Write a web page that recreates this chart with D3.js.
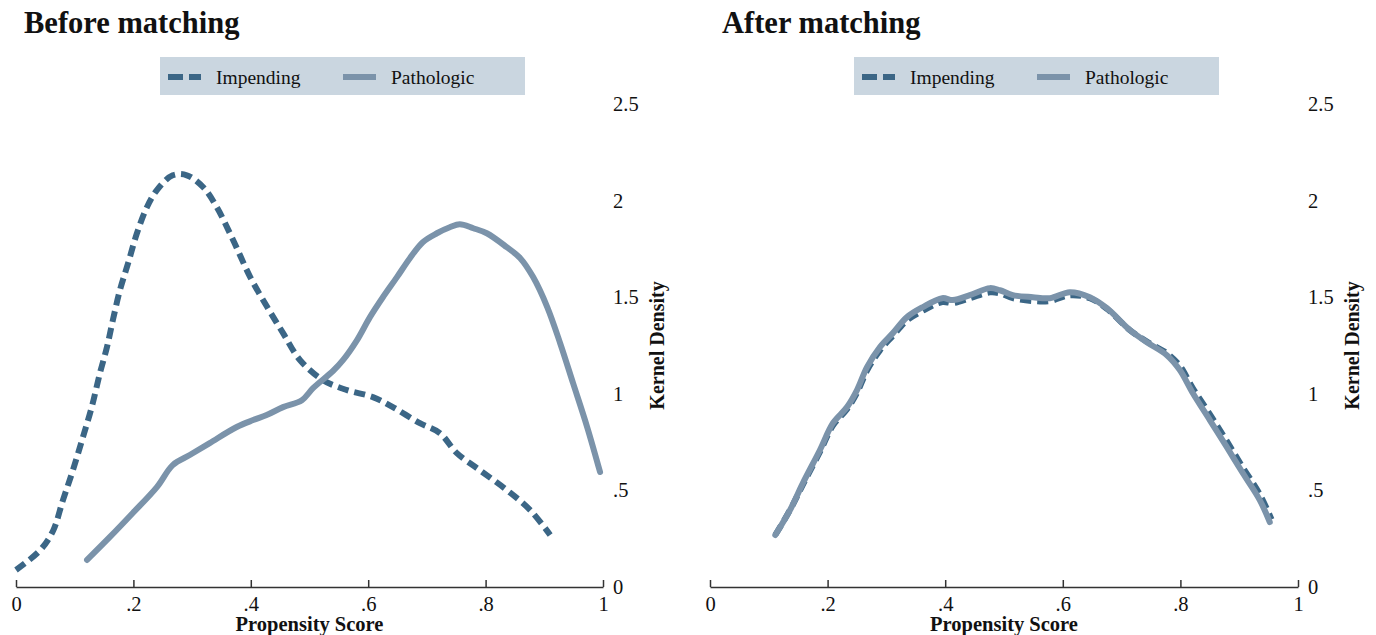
<!DOCTYPE html>
<html>
<head>
<meta charset="utf-8">
<script src="https://cdn.jsdelivr.net/npm/d3@7"></script>
<style>
	body { margin: 0; background: #fff; }
	text { font-family: "Liberation Serif", "Times New Roman", serif; fill: #111; }
</style>
</head>
<body>
<svg id="chart" width="1376" height="635"></svg>
<script>
// propensity score grid + kernel density
const beforeImpX = [0, .041, .063, .080, .097, .114, .129, .143, .155, .165, .177, .191, .206, .223, .240, .267, .291, .319, .342, .370, .399, .428, .455, .484, .523, .564, .608, .642, .688, .722, .751, .790, .836, .876, .910];
const beforeImpY = [.088, .19, .29, .45, .605, .776, .931, 1.107, 1.242, 1.381, 1.536, 1.676, 1.831, 1.966, 2.054, 2.131, 2.131, 2.069, 1.966, 1.795, 1.604, 1.449, 1.314, 1.174, 1.071, 1.019, .983, .931, .848, .797, .693, .605, .502, .398, .269];
const beforePathX = [.121, .160, .199, .240, .267, .296, .330, .376, .404, .427, .455, .487, .506, .540, .557, .581, .603, .625, .649, .671, .693, .717, .739, .756, .779, .802, .836, .859, .881, .905, .927, .949, .973, .995];
const beforePathY = [.140, .259, .383, .517, .631, .683, .745, .828, .864, .890, .931, .967, 1.029, 1.118, 1.174, 1.278, 1.397, 1.500, 1.604, 1.702, 1.785, 1.831, 1.862, 1.878, 1.857, 1.831, 1.759, 1.702, 1.604, 1.449, 1.262, 1.055, .828, .595];
const afterImpX = [.111, .136, .158, .187, .209, .233, .250, .267, .289, .311, .335, .362, .395, .413, .442, .476, .493, .515, .549, .578, .612, .646, .675, .714, .743, .777, .799, .821, .850, .879, .906, .935, .955];
const afterImpY = [.269, .398, .530, .700, .835, .920, 1.005, 1.120, 1.225, 1.300, 1.380, 1.430, 1.475, 1.470, 1.495, 1.525, 1.520, 1.495, 1.480, 1.480, 1.510, 1.495, 1.440, 1.330, 1.270, 1.210, 1.145, 1.030, .895, .755, .620, .480, .350];
const afterPathX = [.111, .136, .158, .187, .209, .233, .250, .267, .289, .311, .335, .362, .395, .413, .442, .476, .493, .515, .549, .578, .612, .646, .675, .714, .743, .777, .799, .821, .850, .879, .906, .935, .952];
const afterPathY = [.269, .398, .538, .709, .848, .931, 1.019, 1.138, 1.242, 1.314, 1.397, 1.449, 1.495, 1.485, 1.511, 1.547, 1.536, 1.511, 1.500, 1.495, 1.526, 1.500, 1.443, 1.330, 1.267, 1.200, 1.123, 1.004, .864, .724, .590, .450, .336];

const seriesNames = ["Impending", "Pathologic"];
const panelTitles = ["Before matching", "After matching"];
const xTicks = [0, .2, .4, .6, .8, 1];
const xTickLabels = ["0", ".2", ".4", ".6", ".8", "1"];
const yTicks = [0, .5, 1, 1.5, 2, 2.5];
const yTickLabels = ["0", ".5", "1", "1.5", "2", "2.5"];

const impColor = "#3b6686", pathColor = "#7b93aa";
const legendFill = "#cad6e0";
const top_y = 104, bottom_y = 587;

var svg = d3.select('#chart');

function zip(xs, ys){ return xs.map((x,i)=>[x, ys[i]]); }

function draw_panel(left, right, titleX, title, impData, pathData){
	var x = d3.scaleLinear().domain([0,1]).range([left, right]);
	var y = d3.scaleLinear().domain([0,2.5]).range([bottom_y, top_y]);
	var g = svg.append('g');

	g.append('text')
		.attr('x', titleX)
		.attr('y', 33)
		.attr('font-size', 30.5)
		.attr('font-weight', 'bold')
		.text(title);

	// legend
	var lx = left + 144;
	var lg = g.append('g').attr('transform', `translate(${lx},57)`);
	lg.append('rect').attr('width', 365).attr('height', 38).attr('fill', legendFill);
	lg.append('line').attr('x1', 8).attr('x2', 41).attr('y1', 20).attr('y2', 20)
		.attr('stroke', impColor).attr('stroke-width', 6).attr('stroke-dasharray', '15,6');
	lg.append('text').attr('x', 56).attr('y', 27).attr('font-size', 19.5).text(seriesNames[0]);
	lg.append('line').attr('x1', 183).attr('x2', 216).attr('y1', 20).attr('y2', 20)
		.attr('stroke', pathColor).attr('stroke-width', 6);
	lg.append('text').attr('x', 231).attr('y', 27).attr('font-size', 19.5).text(seriesNames[1]);

	// x axis, ticks pointing up
	var xa = g.append('g')
		.attr('transform', `translate(0,${bottom_y})`)
		.call(d3.axisBottom(x).tickValues(xTicks).tickFormat((d,i)=>xTickLabels[i])
			.tickSizeInner(-7).tickSizeOuter(0).tickPadding(9));
	xa.select('.domain').attr('stroke', '#333').attr('stroke-width', 1.5);
	xa.selectAll('.tick line').attr('stroke', '#333').attr('stroke-width', 1.5);
	xa.selectAll('text').attr('font-size', 20.5).attr('font-family', '"Liberation Serif", serif').attr('fill', '#111');

	g.append('text')
		.attr('x', (left + right) / 2)
		.attr('y', 631)
		.attr('text-anchor', 'middle')
		.attr('font-size', 20.5)
		.attr('font-weight', 'bold')
		.text('Propensity Score');

	// y axis on the right, labels only
	var ya = g.append('g')
		.attr('transform', `translate(${right},0)`)
		.call(d3.axisRight(y).tickValues(yTicks).tickFormat((d,i)=>yTickLabels[i])
			.tickSize(0).tickPadding(10));
	ya.select('.domain').remove();
	ya.selectAll('text').attr('font-size', 20.5).attr('font-family', '"Liberation Serif", serif').attr('fill', '#111');

	g.append('text')
		.attr('transform', `translate(${right + 61},${(top_y + bottom_y) / 2}) rotate(-90)`)
		.attr('text-anchor', 'middle')
		.attr('font-size', 20)
		.attr('font-weight', 'bold')
		.text('Kernel Density');

	var line = d3.line().x(d=>x(d[0])).y(d=>y(d[1])).curve(d3.curveCatmullRom);

	g.append('path')
		.attr('d', line(impData))
		.attr('fill', 'none')
		.attr('stroke', impColor)
		.attr('stroke-width', 6)
		.attr('stroke-dasharray', '11,6');
	g.append('path')
		.attr('d', line(pathData))
		.attr('fill', 'none')
		.attr('stroke', pathColor)
		.attr('stroke-width', 6)
		.attr('stroke-linecap', 'round')
		.attr('stroke-linejoin', 'round');
}

draw_panel(16, 603, 24, panelTitles[0], zip(beforeImpX, beforeImpY), zip(beforePathX, beforePathY));
draw_panel(710, 1298, 722, panelTitles[1], zip(afterImpX, afterImpY), zip(afterPathX, afterPathY));
</script>
</body>
</html>
